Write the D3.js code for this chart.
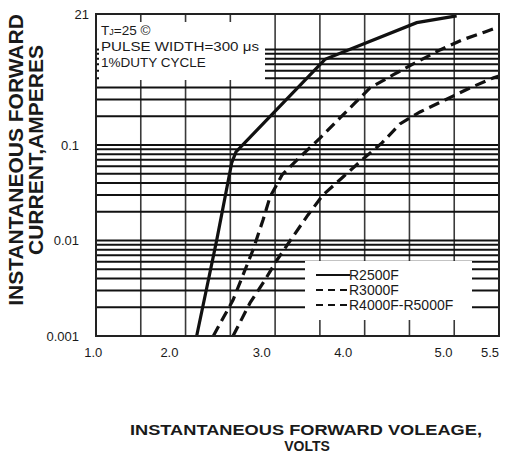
<!DOCTYPE html>
<html><head><meta charset="utf-8">
<script src="https://cdn.jsdelivr.net/npm/d3@7"></script>
<style>
body{margin:0;background:#fff}
svg{display:block}
text{font-family:Arial,"Liberation Sans",Helvetica,sans-serif;fill:#1a1a1a}
</style>
</head><body>
<svg id="chart" width="507" height="457"></svg>
<script>
// ---- data ----
const xTickLabels = ["1.0", "2.0", "3.0", "4.0", "5.0", "5.5"];
const xTickPositions = [0.97, 1.82, 2.85, 3.76, 4.88, 5.40];
const yTickValues = [0.001, 0.01, 0.1, 2.35];
const yTickLabels = ["0.001", "0.01", "0.1", "21"];
const seriesNames = ["R2500F", "R3000F", "R4000F-R5000F"];

const r2500fVolts = [2.124, 2.348, 2.515, 2.563, 3.557, 4.581, 5.027];
const r2500fAmps  = [0.001, 0.0101, 0.0648, 0.0845, 0.789, 1.908, 2.243];

const r3000fVolts = [2.310, 2.530, 2.753, 2.865, 2.943, 3.077, 3.278, 3.501, 3.724, 3.903, 4.059, 4.316, 4.584, 4.841, 5.087, 5.343, 5.5];
const r3000fAmps  = [0.001, 0.00238, 0.00795, 0.0164, 0.0285, 0.0485, 0.0749, 0.118, 0.192, 0.282, 0.395, 0.541, 0.740, 0.988, 1.257, 1.525, 1.72];

const r4000fVolts = [2.530, 2.720, 2.887, 3.021, 3.188, 3.367, 3.535, 3.758, 3.970, 4.193, 4.394, 4.618, 4.897, 5.176, 5.433, 5.5];
const r4000fAmps  = [0.001, 0.00222, 0.00386, 0.00625, 0.0106, 0.0185, 0.0300, 0.0462, 0.0697, 0.105, 0.166, 0.2215, 0.296, 0.395, 0.503, 0.528];

const annotationLines = ["PULSE WIDTH=300 \u03bcs", "1%DUTY CYCLE"];

// ---- layout ----
const svg = d3.select("#chart");
const L = 96, R = 499, T = 14, B = 336;
const x = d3.scaleLinear().domain([1.0, 5.5]).range([L, R]);
const y = d3.scaleLog().domain([0.001, 2.35]).range([B, T]);

// vertical grid
const xGrid = d3.range(1.5, 5.49, 0.5);
svg.append("g").selectAll("line").data(xGrid).join("line")
  .attr("x1", d => x(d)).attr("x2", d => x(d))
  .attr("y1", T).attr("y2", B)
  .attr("stroke", "#3a3a3a").attr("stroke-width", 1.6);

// horizontal log grid
const yGrid = y.ticks().filter(v => v > 0.001 && v <= 1.0001);
svg.append("g").selectAll("line").data(yGrid).join("line")
  .attr("x1", L).attr("x2", R)
  .attr("y1", d => y(d)).attr("y2", d => y(d))
  .attr("stroke", "#111").attr("stroke-width", 2);

// series
const line = d3.line().x(d => x(d[0])).y(d => y(d[1]));
const series = [
  {v: r2500fVolts, a: r2500fAmps, dash: null},
  {v: r3000fVolts, a: r3000fAmps, dash: "11,6"},
  {v: r4000fVolts, a: r4000fAmps, dash: "11,6"}
];
series.forEach(s => {
  svg.append("path")
    .attr("d", line(s.v.map((v, i) => [v, s.a[i]])))
    .attr("fill", "none").attr("stroke", "#111").attr("stroke-width", 3.2)
    .attr("stroke-dasharray", s.dash);
});

// annotation box
svg.append("rect").attr("x", 99).attr("y", 22).attr("width", 166).attr("height", 58).attr("fill", "#fff");
const ann = svg.append("g").attr("font-size", 13.5);
const t0 = ann.append("text").attr("x", 101).attr("y", 35);
t0.append("tspan").text("T");
t0.append("tspan").attr("font-size", 9).text("J");
t0.append("tspan").text("=25 \u00a9");
ann.selectAll("text.l").data(annotationLines).join("text").attr("class", "l")
  .attr("x", 101).attr("y", (d, i) => 51 + i * 15.5)
  .attr("textLength", (d, i) => i === 0 ? 158 : null)
  .attr("lengthAdjust", "spacingAndGlyphs")
  .text(d => d);

// legend box
svg.append("rect").attr("x", 305).attr("y", 261).attr("width", 167).attr("height", 59).attr("fill", "#fff");
const lg = svg.append("g");
seriesNames.forEach((n, i) => {
  const yy = 275 + i * 15;
  lg.append("line").attr("x1", 316).attr("x2", 350).attr("y1", yy).attr("y2", yy)
    .attr("stroke", "#111").attr("stroke-width", 2)
    .attr("stroke-dasharray", i === 0 ? null : "7,5");
  lg.append("text").attr("x", 349).attr("y", yy + 4.5).attr("font-size", 14).text(n);
});

// frame
svg.append("rect").attr("x", L).attr("y", T).attr("width", R - L).attr("height", B - T)
  .attr("fill", "none").attr("stroke", "#222").attr("stroke-width", 2);

// y tick labels
svg.append("g").selectAll("text").data(yTickValues).join("text")
  .attr("x", (d, i) => i === yTickValues.length - 1 ? 89 : 79)
  .attr("y", d => y(d)).attr("dy", "0.36em")
  .attr("text-anchor", "end").attr("font-size", 13)
  .text((d, i) => yTickLabels[i]);

// x tick labels
svg.append("g").selectAll("text").data(xTickPositions).join("text")
  .attr("x", d => x(d)).attr("y", 357)
  .attr("text-anchor", "middle").attr("font-size", 13)
  .text((d, i) => xTickLabels[i]);

// axis titles
const yt = svg.append("text").attr("transform", "translate(22.5,160) rotate(-90)")
  .attr("text-anchor", "middle").attr("font-size", 21).attr("font-weight", "bold");
yt.append("tspan").attr("x", 0).attr("dy", 0).text("INSTANTANEOUS FORWARD");
yt.append("tspan").attr("x", 10).attr("dy", 20).text("CURRENT,AMPERES");

const xt = svg.append("g").attr("font-size", 14).attr("font-weight", "bold").attr("text-anchor", "middle");
xt.append("text").attr("x", 306).attr("y", 435)
  .attr("textLength", 352).attr("lengthAdjust", "spacingAndGlyphs")
  .text("INSTANTANEOUS FORWARD VOLEAGE,");
xt.append("text").attr("x", 307).attr("y", 451).text("VOLTS");
</script>
</body></html>
